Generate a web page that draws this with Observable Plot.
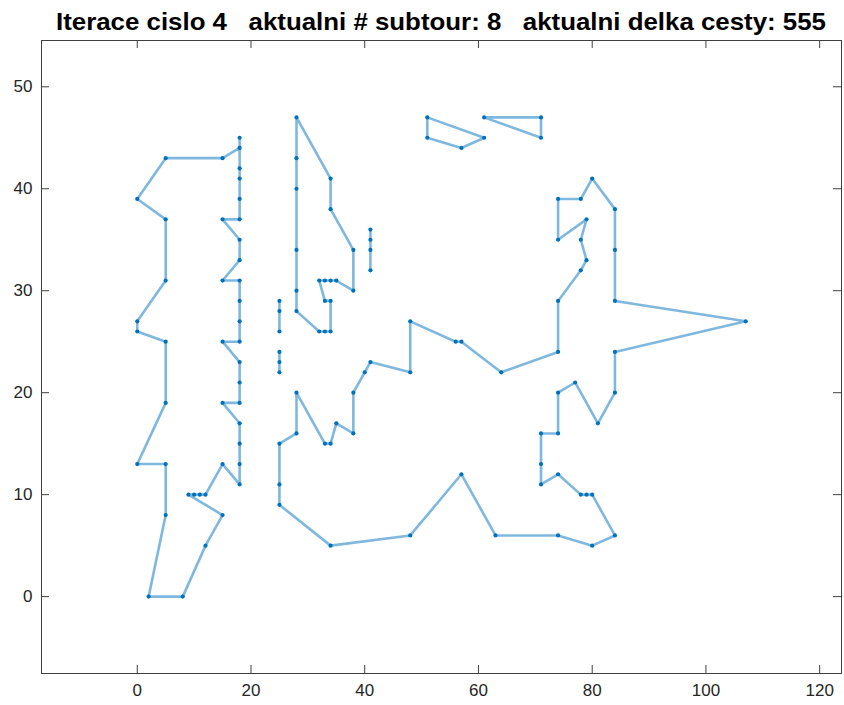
<!DOCTYPE html>
<html><head><meta charset="utf-8">
<script src="https://cdn.jsdelivr.net/npm/d3@7"></script>
<script src="https://cdn.jsdelivr.net/npm/@observablehq/plot@0.6"></script>
<style>
body{margin:0;background:#fff;font-family:"Liberation Sans",Arial,sans-serif;}
#title{display:block;width:844px;height:30px;overflow:visible;position:relative;z-index:1}
#chart svg{display:block}
</style></head><body>
<svg id="title" width="844" height="30"></svg>
<div id="chart"></div>
<script>
const titleText = "Iterace cislo 4   aktualni # subtour: 8   aktualni delka cesty: 555";

// subtours: [x, y] city coordinates in visiting order
const tour1 = [[18,44],[15,43],[5,43],[0,39],[5,37],[5,31],[0,27],[0,26],[5,25],[5,19],[0,13],[5,13],[5,8],[2,0],[8,0],[12,5],[15,8],[9,10],[10,10],[11,10],[12,10],[15,13],[18,11],[18,13],[18,15],[18,17],[15,19],[18,19],[18,21],[18,23],[15,25],[18,25],[18,27],[18,29],[18,31],[15,31],[18,33],[18,35],[15,37],[18,37],[18,39],[18,41],[18,42],[18,45]];
const tour2 = [[28,47],[34,41],[34,38],[38,34],[38,30],[35,31],[34,31],[33,31],[32,31],[33,29],[34,29],[34,26],[33,26],[32,26],[28,28],[28,30],[28,34],[28,40],[28,43]];
const tour3 = [[25,29],[25,28],[25,26]];
const tour4 = [[25,24],[25,23],[25,22]];
const tour5 = [[41,36],[41,35],[41,34],[41,32]];
const tour6 = [[74,24],[74,29],[78,32],[79,33],[78,35],[79,37],[74,35],[74,39],[78,39],[80,41],[84,38],[84,34],[84,29],[107,27],[84,24],[84,20],[81,17],[77,21],[74,20],[74,16],[71,16],[71,13],[71,11],[74,12],[78,10],[79,10],[80,10],[84,6],[80,5],[74,6],[63,6],[57,12],[48,6],[34,5],[25,9],[25,11],[25,15],[28,16],[28,20],[33,15],[34,15],[35,17],[38,16],[38,20],[40,22],[41,23],[48,22],[48,27],[56,25],[57,25],[64,22]];
const tour7 = [[51,47],[61,45],[57,44],[51,45]];
const tour8 = [[61,47],[71,47],[71,45]];

const xTicks = [0, 20, 40, 60, 80, 100, 120];
const yTicks = [0, 10, 20, 30, 40, 50];
const xLimits = [-16.84, 123.84];
const yLimits = [-7.54, 54.54];

const tours = [tour1, tour2, tour3, tour4, tour5, tour6, tour7, tour8];
const pathRows = [];
const cityRows = [];
tours.forEach((t, i) => {
  t.forEach(([x, y]) => { pathRows.push({tour: i + 1, x, y}); cityRows.push({x, y}); });
  pathRows.push({tour: i + 1, x: t[0][0], y: t[0][1]});
});

// title
const ts = d3.select("#title");
ts.append("text")
  .attr("x", 441).attr("y", 30)
  .attr("text-anchor", "middle")
  .attr("font-weight", "bold")
  .attr("font-size", 24)
  .attr("font-family", "Liberation Sans, Arial, sans-serif")
  .attr("textLength", 770)
  .attr("lengthAdjust", "spacingAndGlyphs")
  .style("white-space", "pre")
  .attr("fill", "#000")
  .text(titleText);

const W = 844, H = 675, mT = 10, mB = 32, mL = 41, mR = 3;
const innerH = H - mT - mB, innerW = W - mL - mR;
const tickLen = 8;
const axisColor = "#404040";

const plot = Plot.plot({
  width: W, height: H,
  marginTop: mT, marginBottom: mB, marginLeft: mL, marginRight: mR,
  style: {background: "none", fontFamily: "Liberation Sans, Arial, sans-serif", fontSize: "17px", color: "#262626"},
  x: {domain: xLimits, ticks: xTicks},
  y: {domain: yLimits, ticks: yTicks},
  marks: [
    Plot.line(pathRows, {x: "x", y: "y", z: "tour", stroke: "#0072BD", strokeOpacity: 0.5, strokeWidth: 2.6, curve: "linear"}),
    Plot.dot(cityRows, {x: "x", y: "y", r: 2.1, fill: "#0072BD", stroke: null}),
    Plot.tickX(xTicks, {x: d => d, insetTop: innerH - tickLen, stroke: axisColor, strokeWidth: 1}),
    Plot.tickX(xTicks, {x: d => d, insetBottom: innerH - tickLen, stroke: axisColor, strokeWidth: 1}),
    Plot.tickY(yTicks, {y: d => d, insetRight: innerW - tickLen, stroke: axisColor, strokeWidth: 1}),
    Plot.tickY(yTicks, {y: d => d, insetLeft: innerW - tickLen, stroke: axisColor, strokeWidth: 1}),
    Plot.axisX(xTicks, {tickSize: 0, tickPadding: 10, label: null, fill: "#262626"}),
    Plot.axisY(yTicks, {tickSize: 0, tickPadding: 9, label: null, fill: "#262626"}),
    Plot.frame({stroke: axisColor, strokeWidth: 1})
  ]
});
document.getElementById("chart").appendChild(plot);
</script>
</body></html>
